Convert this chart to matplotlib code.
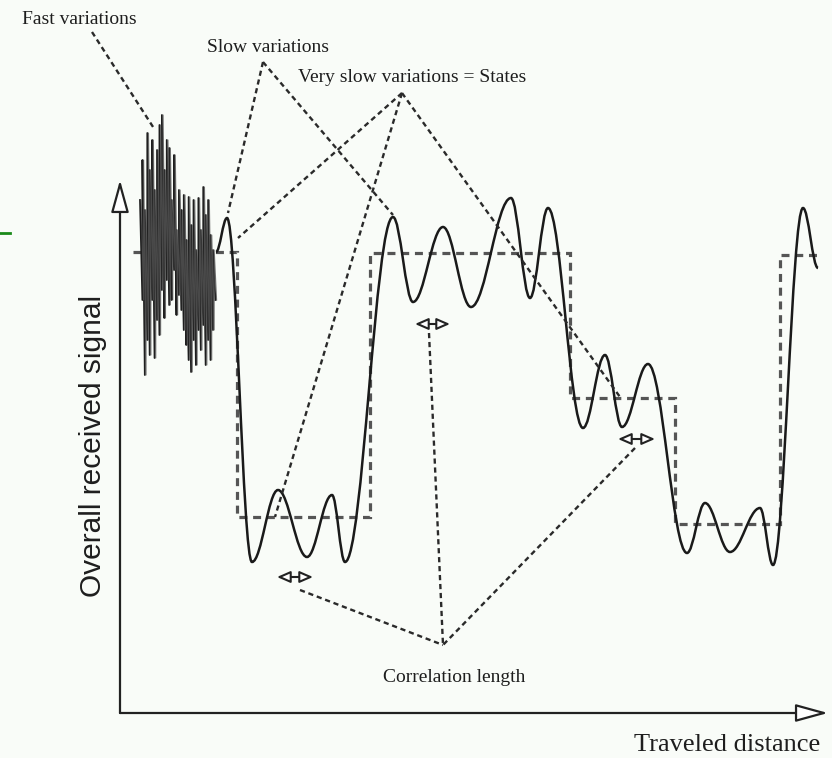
import matplotlib
matplotlib.use("Agg")
from matplotlib import pyplot as plt
from matplotlib.path import Path
import matplotlib.patches as mpatches
import numpy as np

# everything is in picture pixels (x right, y down)
W, H = 832, 758

# solid curve: slow variations, read as successive peaks / troughs
curve_x = [216, 227, 252, 278, 307, 332, 345, 393, 413, 443, 471, 511, 530, 548,
           583, 605, 622, 648, 687, 705, 730, 760, 773, 803, 818]
curve_y = [252, 218, 562, 490, 557, 495, 562, 217, 302, 227, 307, 198, 298, 208,
           428, 355, 427, 364, 553, 503, 552, 508, 565, 208, 268]

# dashed steps: very slow variations = states
state_edges = [133, 237, 370, 570, 675, 780, 820]
state_levels = [252, 517, 253, 398, 524, 255]

# fast variations: top and bottom of each stroke
noise_top = [200, 160, 210, 133, 170, 140, 190, 150, 125, 115, 170, 140, 148, 200, 155, 230,
             190, 210, 195, 240, 197, 225, 200, 250, 198, 230, 187, 215, 200, 235, 250]
noise_bot = [300, 375, 340, 355, 300, 358, 320, 335, 290, 318, 280, 305, 300, 270, 315, 295,
             310, 330, 345, 360, 372, 340, 365, 330, 350, 325, 365, 340, 360, 330, 300]

# labels: (text, x, y)
labels = [("Fast variations", 22, 20),
          ("Slow variations", 207, 48),
          ("Very slow variations = States", 298, 78),
          ("Correlation length", 383, 678)]

# pointer lines: (from, to)
pointers = [((92, 32), (155, 130)),
            ((263, 62), (228, 213)), ((263, 62), (393, 215)),
            ((402, 93), (238, 238)), ((402, 93), (275, 517)), ((402, 93), (620, 397)),
            ((300, 590), (443, 645)), ((429, 333), (443, 645)), ((635, 448), (443, 645))]

# correlation length markers: (x0, x1, y)
corr_marks = [(277, 313, 577), (415, 450, 324), (618, 655, 439)]

fig = plt.figure(figsize=(W / 100, H / 100), dpi=100, facecolor='#f9fcf8')
ax = fig.add_axes([0, 0, 1, 1])
ax.set_xlim(0, W)
ax.set_ylim(H, 0)
ax.axis('off')

# green tick at left edge
ax.plot([0, 10], [233, 233], color='#1a8a1a', lw=2)

# axes arrows
for start, end in [((120, 713), (120, 180)), ((120, 713), (828, 713))]:
    ax.add_patch(mpatches.FancyArrowPatch(start, end, arrowstyle='-|>,head_length=2.0,head_width=0.55',
                                          mutation_scale=10, lw=1.6, ec='#222222', fc='white',
                                          shrinkA=0, shrinkB=0))

# fast variations zigzag
xs = np.linspace(140, 213, len(noise_top))
zx, zy = [], []
for x, t, b in zip(xs, noise_top, noise_bot):
    zx += [x, x + 2.4]
    zy += [t, b]
ax.plot(zx, zy, color='#1e1e1e', lw=1.3)
ax.plot(np.array(zx) + 1.2, zy, color='#555555', lw=0.8, alpha=0.8)

# states
ax.stairs(state_levels, state_edges, baseline=None, color='#555555', lw=2.3,
          linestyle=(0, (2.5, 1.8)))

# slow variation curve as bezier segments with flat tangents at the extrema
verts = [(curve_x[0], curve_y[0])]
codes = [Path.MOVETO]
for i in range(1, len(curve_x)):
    x0, y0, x1, y1 = curve_x[i - 1], curve_y[i - 1], curve_x[i], curve_y[i]
    d = 0.37 * (x1 - x0)
    verts += [(x0 + d, y0), (x1 - d, y1), (x1, y1)]
    codes += [Path.CURVE4] * 3
ax.add_patch(mpatches.PathPatch(Path(verts, codes), fc='none', ec='#1a1a1a', lw=1.8))

# pointer lines
for (x0, y0), (x1, y1) in pointers:
    ax.plot([x0, x1], [y0, y1], color='#2a2a2a', lw=1.7, linestyle=(0, (2.2, 1.6)))

# correlation length double arrows
for x0, x1, y in corr_marks:
    ax.add_patch(mpatches.FancyArrowPatch((x0, y), (x1, y), arrowstyle='<|-|>,head_length=0.8,head_width=0.35',
                                          mutation_scale=10, lw=1.5, ec='#222222', fc='white',
                                          shrinkA=0, shrinkB=0))

for txt, x, y in labels:
    ax.text(x, y, txt, family='Liberation Serif', fontsize=14, color='#1e1e1e', ha='left', va='center')

ax.text(727, 745, "Traveled distance", family='Liberation Serif', fontsize=19, color='#1e1e1e',
        ha='center', va='center')
ax.text(93, 446, "Overall received signal", family='Liberation Sans', fontsize=21.5, color='#1e1e1e',
        rotation=90, ha='center', va='center')

fig.savefig('out.png', dpi=100, facecolor=fig.get_facecolor())
